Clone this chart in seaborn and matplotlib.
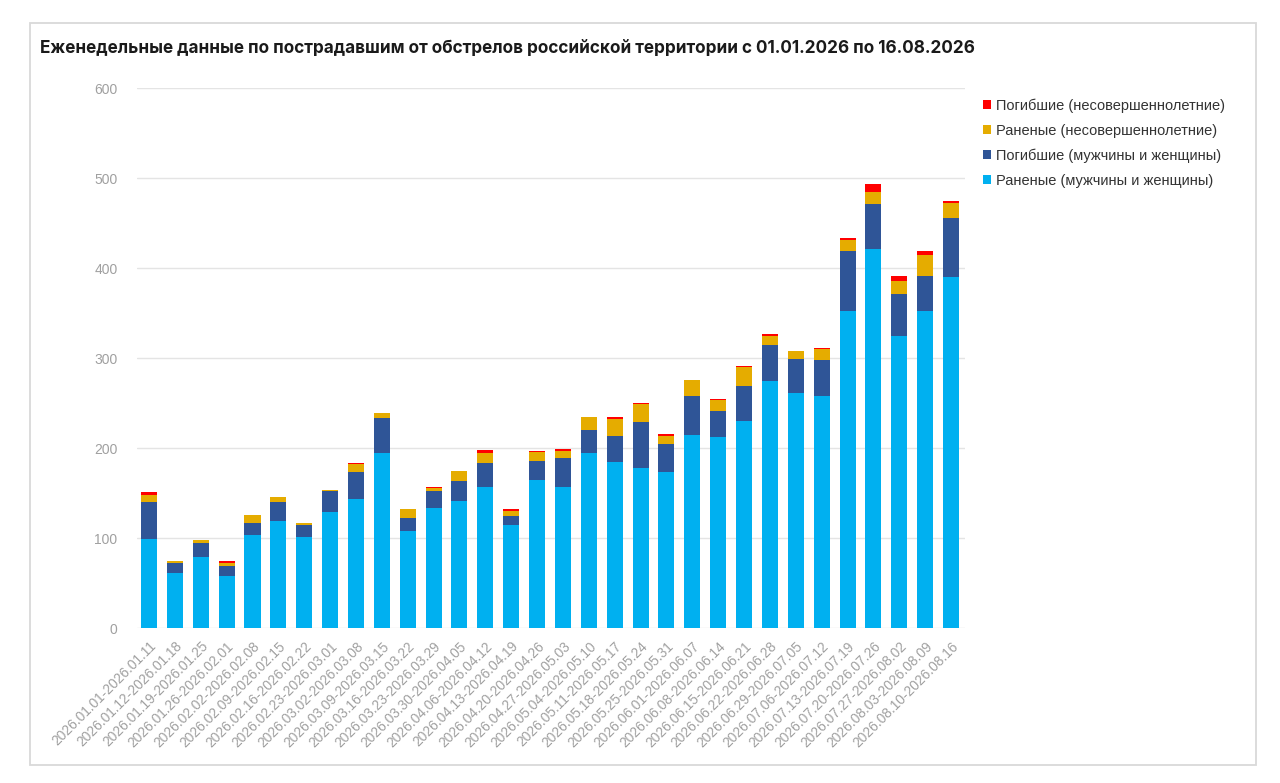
import matplotlib
matplotlib.use("Agg")
import matplotlib.pyplot as plt
from matplotlib.patches import Rectangle
import seaborn as sns
import pandas as pd

weeks = [
    "2026.01.01-2026.01.11", "2026.01.12-2026.01.18", "2026.01.19-2026.01.25",
    "2026.01.26-2026.02.01", "2026.02.02-2026.02.08", "2026.02.09-2026.02.15",
    "2026.02.16-2026.02.22", "2026.02.23-2026.03.01", "2026.03.02-2026.03.08",
    "2026.03.09-2026.03.15", "2026.03.16-2026.03.22", "2026.03.23-2026.03.29",
    "2026.03.30-2026.04.05", "2026.04.06-2026.04.12", "2026.04.13-2026.04.19",
    "2026.04.20-2026.04.26", "2026.04.27-2026.05.03", "2026.05.04-2026.05.10",
    "2026.05.11-2026.05.17", "2026.05.18-2026.05.24", "2026.05.25-2026.05.31",
    "2026.06.01-2026.06.07", "2026.06.08-2026.06.14", "2026.06.15-2026.06.21",
    "2026.06.22-2026.06.28", "2026.06.29-2026.07.05", "2026.07.06-2026.07.12",
    "2026.07.13-2026.07.19", "2026.07.20-2026.07.26", "2026.07.27-2026.08.02",
    "2026.08.03-2026.08.09", "2026.08.10-2026.08.16",
]

wounded_adults = [99, 61, 79, 58, 103, 119, 101, 129, 143, 195, 108, 133, 141, 157, 115, 164,
                  157, 194, 184, 178, 173, 215, 212, 230, 275, 261, 258, 352, 421, 325, 352, 390]
killed_adults = [41, 11, 15, 11, 14, 21, 14, 23, 30, 38, 14, 19, 22, 26, 9, 22,
                 32, 26, 29, 51, 32, 43, 29, 39, 40, 38, 40, 67, 50, 46, 39, 66]
wounded_minors = [8, 2, 4, 3, 9, 6, 2, 1, 9, 6, 10, 4, 11, 12, 6, 10,
                  8, 14, 19, 20, 8, 18, 12, 21, 10, 9, 12, 12, 14, 15, 24, 16]
killed_minors = [3, 0, 0, 2, 0, 0, 0, 0, 1, 0, 0, 1, 1, 3, 2, 1,
                 2, 1, 2, 1, 3, 0, 1, 1, 2, 0, 1, 2, 8, 5, 4, 3]

series_names = [
    "Погибшие (несовершеннолетние)",
    "Раненые (несовершеннолетние)",
    "Погибшие (мужчины и женщины)",
    "Раненые (мужчины и женщины)",
]
series_values = [killed_minors, wounded_minors, killed_adults, wounded_adults]
series_colors = ["#FF0000", "#E5AC00", "#2F5597", "#00B0F0"]

title = "Еженедельные данные по пострадавшим от обстрелов российской территории с 01.01.2026 по 16.08.2026"
yticks = [0, 100, 200, 300, 400, 500, 600]

rows = []
for name, vals in zip(series_names, series_values):
    for w, v in zip(weeks, vals):
        rows.append({"week": w, "value": v, "series": name})
df = pd.DataFrame(rows)

sns.set_style("white")
plt.rcParams["font.family"] = ["Liberation Sans", "DejaVu Sans"]

fig = plt.figure(figsize=(12.8, 7.83), dpi=100)
ax = fig.add_axes([137 / 1280, 1 - 628 / 783, (965 - 137) / 1280, 540 / 783])

sns.histplot(
    data=df, x="week", weights="value", hue="series", hue_order=series_names,
    palette=series_colors, multiple="stack", discrete=True, shrink=0.62,
    linewidth=0, alpha=1, ax=ax,
)

ax.set_xlim(-0.464, 31.54)
ax.set_ylim(0, 600)
ax.set_yticks(yticks)
ax.set_yticklabels([str(t) for t in yticks])
ax.grid(axis="y", color="#e4e4e4", linewidth=1)
ax.set_axisbelow(True)
for s in ax.spines.values():
    s.set_visible(False)
ax.set_xlabel("")
ax.set_ylabel("")
ax.tick_params(axis="y", length=0, pad=14, labelsize=10, labelcolor="#a0a0a0")
ax.tick_params(axis="x", length=0, pad=8, labelsize=9.9, labelcolor="#a0a0a0")
ax.set_xticks(range(len(weeks)))
ax.set_xticklabels(weeks, rotation=45, ha="right", rotation_mode="anchor")

sns.move_legend(
    ax, "upper left", bbox_to_anchor=(983 / 1280, 1 - 98.5 / 783),
    bbox_transform=fig.transFigure, frameon=False, title=None,
    handlelength=0.55, handleheight=0.55, handletextpad=0.35, labelspacing=0.74,
    borderaxespad=0, borderpad=0, fontsize=10.5,
)
for t in ax.get_legend().get_texts():
    t.set_color("#333333")

fig.text(40 / 1280, 1 - 53 / 783, title, fontsize=12.35, fontweight="bold",
         color="#1a1a1a", ha="left", va="baseline", family=["Inter", "DejaVu Sans"])

fig.patches.append(Rectangle((30 / 1280, 1 - 765 / 783), (1256 - 30) / 1280, (765 - 23) / 783,
                             transform=fig.transFigure, fill=False, edgecolor="#d9d9d9",
                             linewidth=1.3))

fig.savefig("out.png", dpi=100)
